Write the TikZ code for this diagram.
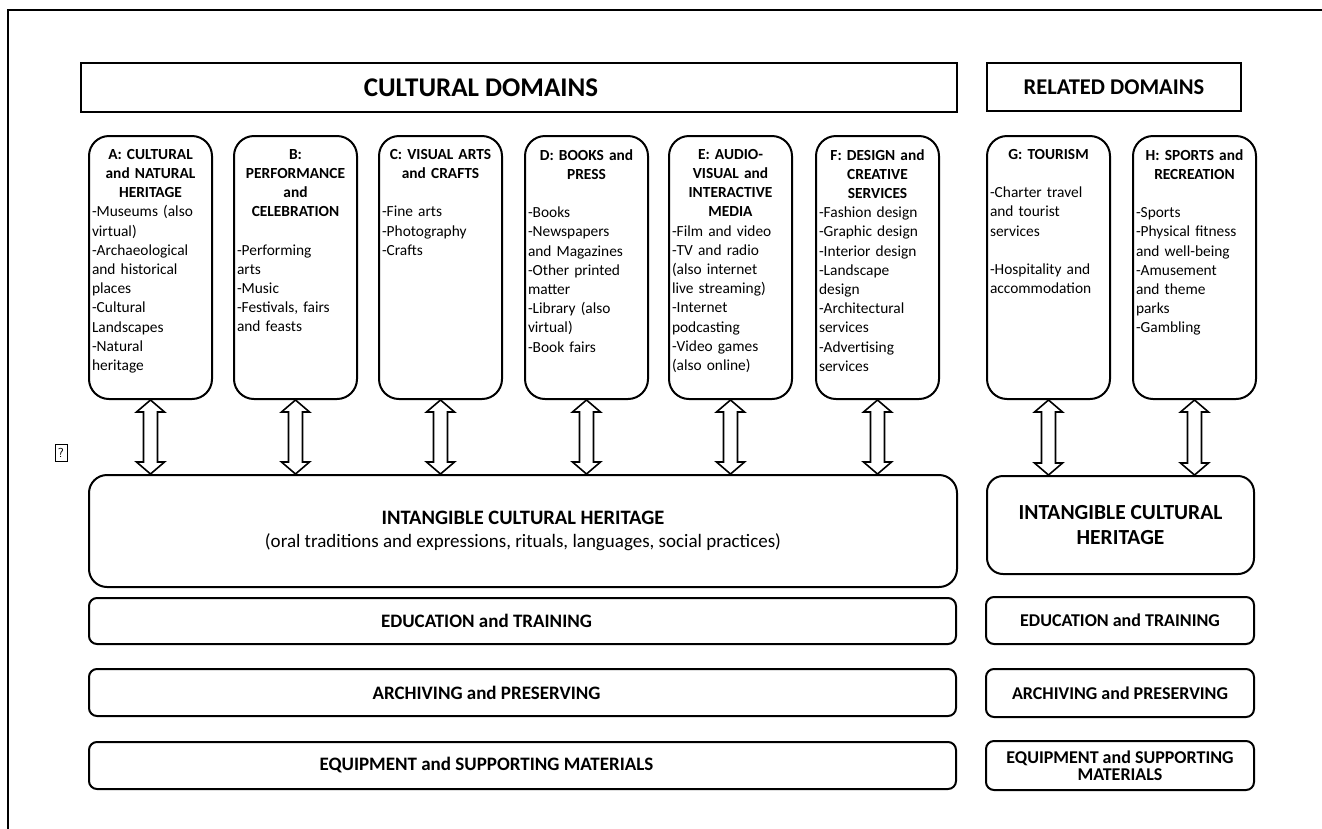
\documentclass[tikz,border=0pt]{standalone}
\usepackage{fontspec}
\setmainfont{Carlito}
\usetikzlibrary{calc}
\setlength\parindent{0pt}
\newcommand\fbody{\fontsize{15.4}{19.2}\selectfont}
\newcommand\flabel{\fontsize{18}{17.5}\selectfont\bfseries}
\newcommand\fich{\fontsize{20.5}{24}\selectfont}
\newcommand\fhead{\fontsize{22.5}{26}\selectfont\bfseries}
\newcommand\dbarrow[2]{%
  \coordinate (t) at (#1.south);
  \coordinate (b) at (#1.south |- #2.north);
  \draw[dblarrow] (t) -- ($(t)+(-14,12)$) -- ($(t)+(-7,12)$) -- ($(b)+(-7,-12)$)
    -- ($(b)+(-14,-12)$) -- (b) -- ($(b)+(14,-12)$) -- ($(b)+(7,-12)$)
    -- ($(t)+(7,12)$) -- ($(t)+(14,12)$) -- cycle;}
\begin{document}
\begin{tikzpicture}[x=1pt,y=-1pt,
  frame/.style={draw, line width=1.5pt},
  headbox/.style={draw, line width=2pt, anchor=north west, inner sep=0pt, font=\fhead},
  dombox/.style={draw, line width=2pt, rounded corners=20pt, anchor=north west,
    minimum width=123pt, minimum height=263pt, inner sep=0pt},
  domtext/.style={anchor=north, text width=117pt, inner sep=0pt, font=\fbody},
  ichbox/.style={draw, line width=2pt, rounded corners=18pt, anchor=north west,
    inner sep=0pt, align=center, font=\fich},
  labbox/.style={draw, line width=2pt, rounded corners=8pt, anchor=north west,
    inner sep=0pt, align=center, font=\flabel},
  labtext/.style={inner sep=0pt, align=center, font=\fontsize{19}{19}\selectfont\bfseries},
  dblarrow/.style={draw, line width=1.6pt, fill=white, line join=miter},
  stray/.style={draw, line width=0.8pt, inner sep=0pt, minimum width=12pt,
    minimum height=17pt, font=\sffamily\fontsize{13}{13}\selectfont}
]
\useasboundingbox (0,0) rectangle (1322,828);
% outer frame (right and bottom edges lie beyond the picture)
\draw[frame] (1400,10) -- (8,10) -- (8,900);

% headers
\node[headbox, minimum width=876pt, minimum height=49pt] (CD) at (80,62) {};
\node[inner sep=0pt, font=\fontsize{27}{30}\selectfont\bfseries] (CDt) at ($(CD.center)+(-38,0)$) {CULTURAL DOMAINS};
\node[headbox, minimum width=254pt, minimum height=48pt] (RD) at (986,62) {RELATED DOMAINS};

% domain boxes
\node[dombox] (A) at (88,135) {};
\node[dombox] (B) at (233,135) {};
\node[dombox] (C) at (378,135) {};
\node[dombox] (D) at (524,135) {};
\node[dombox] (E) at (668,135) {};
\node[dombox] (F) at (815,135) {};
\node[dombox] (G) at (986,135) {};
\node[dombox] (H) at (1132,135) {};

\node[domtext] (Atext) at ($(A.north)+(0,14)$) {{\centering\bfseries A: CULTURAL\\and NATURAL\\HERITAGE\par}
{\raggedright -Museums (also\\virtual)\\-Archaeological\\and historical\\places\\-Cultural\\Landscapes\\-Natural\\heritage\par}};
\node[domtext] (Btext) at ($(B.north)+(0,14)$) {{\centering\bfseries B:\\PERFORMANCE\\and\\CELEBRATION\\\mbox{}\par}
{\raggedright -Performing\\arts\\-Music\\-Festivals, fairs\\and feasts\par}};
\node[domtext] (Ctext) at ($(C.north)+(0,14)$) {{\centering\bfseries C: VISUAL ARTS\\and CRAFTS\\\mbox{}\par}
{\raggedright -Fine arts\\-Photography\\-Crafts\par}};
\node[domtext] (Dtext) at ($(D.north)+(0,14)$) {{\centering\bfseries D: BOOKS and\\PRESS\par}
{\raggedright \mbox{}\\-Books\\-Newspapers\\and Magazines\\-Other printed\\matter\\-Library (also\\virtual)\\-Book fairs\\\mbox{}\par}};
\node[domtext] (Etext) at ($(E.north)+(0,14)$) {{\centering\bfseries E: AUDIO-\\VISUAL and\\INTERACTIVE\\MEDIA\par}
{\raggedright -Film and video\\-TV and radio\\(also internet\\live streaming)\\-Internet\\podcasting\\-Video games\\(also online)\par}};
\node[domtext] (Ftext) at ($(F.north)+(0,14)$) {{\centering\bfseries F: DESIGN and\\CREATIVE\\SERVICES\par}
{\raggedright -Fashion design\\-Graphic design\\-Interior design\\-Landscape\\design\\-Architectural\\services\\-Advertising\\services\par}};
\node[domtext] (Gtext) at ($(G.north)+(0,14)$) {{\centering\bfseries G: TOURISM\par}
{\raggedright \mbox{}\\-Charter travel\\and tourist\\services\\\mbox{}\\-Hospitality and\\accommodation\par}};
\node[domtext] (Htext) at ($(H.north)+(0,14)$) {{\centering\bfseries H: SPORTS and\\RECREATION\par}
{\raggedright \mbox{}\\-Sports\\-Physical fitness\\and well-being\\-Amusement\\and theme\\parks\\-Gambling\par}};

% intangible cultural heritage
\node[ichbox, minimum width=868pt, minimum height=112pt] (ICHL) at (88,474)
  {\textbf{INTANGIBLE CULTURAL HERITAGE}\\[-1pt]{\fontsize{19}{22}\selectfont(oral traditions and expressions, rituals, languages, social practices)}};
\node[ichbox, rounded corners=16pt, minimum width=267pt, minimum height=98pt, font=\fontsize{21.5}{25}\selectfont\bfseries] (ICHR) at (986,475)
  {INTANGIBLE CULTURAL\\HERITAGE};

% arrows
\foreach \b in {A,B,C,D,E,F} {\dbarrow{\b}{ICHL}}
\foreach \b in {G,H} {\dbarrow{\b}{ICHR}}

% bottom rows
\node[labbox, minimum width=867pt, minimum height=46pt] (EDL) at (88,597) {};
\node[labbox, minimum width=867pt, minimum height=47pt] (ARL) at (88,668) {};
\node[labbox, minimum width=867pt, minimum height=47pt] (EQL) at (88,741) {};
\node[labtext] (EDLt) at ($(EDL.center)+(-36,0)$) {EDUCATION and TRAINING};
\node[labtext] (ARLt) at ($(ARL.center)+(-36,0)$) {ARCHIVING and PRESERVING};
\node[labtext] (EQLt) at ($(EQL.center)+(-36,0)$) {EQUIPMENT and SUPPORTING MATERIALS};
\node[labbox, minimum width=268pt, minimum height=47pt] (EDR) at (985,596) {EDUCATION and TRAINING};
\node[labbox, minimum width=268pt, minimum height=48pt] (ARR) at (985,668) {ARCHIVING and PRESERVING};
\node[labbox, minimum width=268pt, minimum height=49pt] (EQR) at (985,740) {EQUIPMENT and SUPPORTING\\MATERIALS};

% stray glyph box
\node[stray] (q) at (61,453) {?};
\end{tikzpicture}
\end{document}
